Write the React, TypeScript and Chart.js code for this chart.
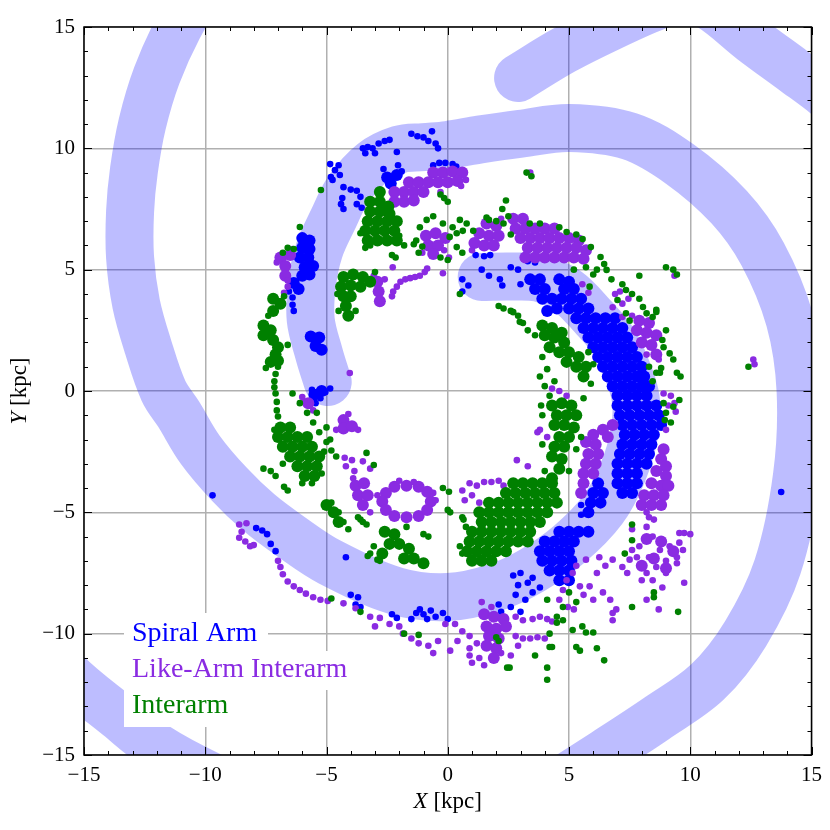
import React, { useEffect, useRef } from 'react';
import { Chart, registerables } from 'chart.js';

Chart.register(...registerables);

// ---------- axis ticks ----------
const majorTicks = [-15, -10, -5, 0, 5, 10, 15];
const minorTicks = [-15, -14, -13, -12, -11, -10, -9, -8, -7, -6, -5, -4, -3, -2, -1, 0, 1, 2, 3, 4, 5, 6, 7, 8, 9, 10, 11, 12, 13, 14, 15];

// ---------- legend ----------
const seriesNames = ['Spiral Arm', 'Like-Arm Interarm', 'Interarm'];
const seriesColors = ['#0000ff', '#8a2be2', '#008000'];

// ---------- spiral arm centre lines (kpc) ----------
const armInner = [
  [1.4, 4.7], [2.6, 4.72], [3.8, 4.65], [4.95, 4.1], [6.0, 3.05], [6.8, 2.1], [7.3, 1.1], [7.75, -0.3],
  [7.7, -1.73], [7.21, -3.38], [6.39, -4.9], [5.03, -6.3], [3.5, -7.38], [2.0, -8.08], [0, -8.49],
  [-2.1, -8.25], [-4.86, -7.05], [-6.47, -6.0], [-7.8, -5.0], [-9.0, -3.85], [-10.2, -2.43], [-11.1, -0.95],
  [-11.72, 0.0], [-12.35, 1.8], [-12.85, 3.6], [-13.1, 5.5], [-13.1, 7.4], [-12.94, 9.1], [-12.6, 11.0],
  [-12.0, 13.0], [-11.1, 15.0], [-10.0, 16.8]
];
const armOuter = [
  [-4.95, 0.37], [-5.3, 1.5], [-5.65, 2.93], [-5.6, 4.4], [-5.3, 5.8], [-4.74, 7.05], [-4.1, 8.3],
  [-3.1, 9.4], [-2.0, 9.95], [-1.0, 10.05], [0, 10.14], [1.32, 10.36], [3.0, 10.6], [5.02, 10.84],
  [7.5, 10.5], [9.56, 9.36], [11.6, 7.58], [12.98, 5.65], [14.1, 2.93], [14.55, 0], [14.4, -3.5],
  [13.6, -7.25], [12.28, -10], [10.7, -12], [8.6, -13.5], [6.47, -14.9], [3.5, -16.8]
];
const armTop = [
  [2.9, 12.9], [4.8, 14.05], [6.8, 15.05], [8.6, 15.85], [9.8, 16.15], [10.8, 15.85],
  [12.56, 14.45], [14.26, 13.2], [15.6, 12.2], [17, 11]
];
const armCorner = [
  [-17.5, -9.5], [-15.72, -11.63], [-13.6, -13.4], [-11.99, -14.67], [-9.79, -15.86], [-7.5, -16.8]
];

// ---------- Spiral Arm (blue) ----------
const spiralArmPoints = [
  [-6.4, 3.85], [-6.4, 3.55], [-6.35, 3.3], [-6.55, 4.1],
  [-4.85, 0.1], [-5.05, -0.05], [-5.6, 0.05], [-5.45, -0.5], [-5.25, -0.3],
  [-4.82, 8.82], [-4.85, 9.35], [-4.65, 9.1], [-4.5, 9.3], [-4.45, 8.9], [-4.75, 8.7],
  [-4.3, 8.4], [-4.0, 8.3], [-3.75, 8.25], [-3.6, 8.0], [-3.75, 7.7], [-3.55, 7.55], [-4.4, 7.7], [-4.3, 7.5], [-4.35, 7.95],
  [-3.5, 10.0], [-3.3, 10.05], [-3.1, 10.0], [-3.4, 9.8], [-2.85, 10.2], [-2.6, 10.3], [-2.4, 10.35], [-2.1, 9.85], [-3.0, 9.8],
  [-1.5, 10.6], [-1.25, 10.5], [-1.0, 10.45], [-0.8, 10.3], [-0.65, 10.7], [-0.5, 10.2], [-0.4, 10.0],
  [-0.6, 9.3], [-0.35, 9.4], [-0.1, 9.4], [0.2, 9.35], [0.35, 9.25],
  [-2.05, 9.3], [-1.9, 9.05], [-2.65, 9.15],
  [0.6, 4.6], [0.85, 4.35], [0.6, 4.1], [1.15, 5.6], [1.5, 5.55], [1.75, 5.6], [1.4, 5.0], [1.7, 4.75],
  [2.15, 4.6], [2.25, 4.35], [2.6, 5.1], [2.9, 5.0], [3.3, 5.35], [3.6, 5.3], [3.0, 4.4],
  [5.5, -4.7], [5.5, -5.1],
  [2.7, -7.6], [3.0, -7.5], [2.9, -8.0], [3.3, -7.9], [2.8, -8.4], [3.2, -8.6], [3.5, -7.7], [2.6, -8.9],
  [3.0, -9.1], [3.5, -8.3], [3.8, -8.1], [2.1, -8.8], [2.2, -9.1],
  [-1.5, -9.4], [-1.3, -9.15], [-1.0, -9.2], [-0.7, -9.05], [-0.5, -9.3], [-0.2, -9.15], [0.0, -9.4], [-0.85, -9.4], [-1.15, -9.0],
  [-2.3, -9.2], [-2.1, -9.35],
  [-4.0, -8.4], [-3.7, -8.5], [-3.8, -8.8], [-3.6, -8.9],
  [-4.2, -6.85],
  [-7.9, -5.65], [-7.65, -5.75], [-7.45, -5.9], [-7.3, -6.3], [-7.1, -6.6],
  [-9.7, -4.3], [13.75, -4.16]
];
const spiralArmCores = [
  [-6.0, 6.3], [-5.7, 6.2], [-6.0, 5.9], [-5.7, 5.85], [-6.1, 5.5], [-5.75, 5.5], [-5.9, 5.1], [-5.55, 5.15],
  [-6.0, 4.75], [-5.7, 4.8], [-6.35, 4.45], [-6.15, 4.2],
  [-5.65, 2.25], [-5.3, 2.2], [-5.45, 1.85], [-5.2, 1.7],
  [-5.5, -0.15], [-5.2, 0.0],
  [-2.5, 8.8], [-2.1, 8.9], [-2.35, 8.55],
  [3.4, 4.6], [3.8, 4.6], [4.6, 4.6], [5.0, 4.5],
  [3.6, 4.2], [4.0, 4.2], [4.8, 4.2], [5.2, 4.2],
  [3.9, 3.8], [4.3, 3.8], [4.7, 3.8], [5.1, 3.8], [5.5, 3.8],
  [4.1, 3.3], [4.5, 3.4], [5.0, 3.4], [5.4, 3.4], [5.8, 3.4],
  [5.3, 3.0], [5.7, 3.0], [6.1, 3.0], [6.5, 3.0], [6.9, 3.0],
  [5.6, 2.6], [6.0, 2.6], [6.4, 2.6], [6.8, 2.6], [7.2, 2.6],
  [5.8, 2.2], [6.2, 2.2], [6.6, 2.2], [7.0, 2.2], [7.4, 2.2],
  [6.0, 1.8], [6.4, 1.8], [6.8, 1.8], [7.2, 1.8], [7.6, 1.8],
  [6.2, 1.4], [6.6, 1.4], [7.0, 1.4], [7.4, 1.4], [7.8, 1.4],
  [6.4, 1.0], [6.8, 1.0], [7.2, 1.0], [7.6, 1.0], [8.0, 1.0],
  [6.6, 0.6], [7.0, 0.6], [7.4, 0.6], [7.8, 0.6], [8.1, 0.6],
  [6.8, 0.2], [7.2, 0.2], [7.6, 0.2], [8.0, 0.2], [8.3, 0.2],
  [7.0, -0.2], [7.4, -0.2], [7.8, -0.2], [8.2, -0.2],
  [7.0, -0.6], [7.4, -0.6], [7.8, -0.6], [8.2, -0.6], [8.6, -0.6],
  [7.1, -1.0], [7.5, -1.0], [7.9, -1.0], [8.3, -1.0], [8.7, -1.0],
  [7.2, -1.4], [7.6, -1.4], [8.0, -1.4], [8.4, -1.4], [8.8, -1.4],
  [7.3, -1.8], [7.7, -1.8], [8.1, -1.8], [8.5, -1.8],
  [7.2, -2.2], [7.6, -2.2], [8.0, -2.2], [8.4, -2.2],
  [7.1, -2.6], [7.5, -2.6], [7.9, -2.6], [8.3, -2.6],
  [7.0, -3.0], [7.4, -3.0], [7.8, -3.0], [8.2, -3.0],
  [7.0, -3.4], [7.4, -3.4], [7.8, -3.4],
  [6.2, -3.8], [7.0, -3.8], [7.4, -3.8], [7.8, -3.8],
  [6.0, -4.2], [6.4, -4.2], [7.2, -4.2], [7.6, -4.2],
  [5.9, -4.6], [6.3, -4.6], [5.8, -5.0],
  [4.6, -5.8], [5.0, -5.8], [5.4, -5.8], [5.8, -5.8],
  [4.0, -6.2], [4.4, -6.2], [4.8, -6.2], [5.2, -6.2],
  [3.8, -6.6], [4.2, -6.6], [4.6, -6.6], [5.0, -6.6],
  [3.9, -7.0], [4.3, -7.0], [4.7, -7.0], [5.1, -7.0],
  [4.2, -7.4], [4.6, -7.4], [5.0, -7.4],
  [4.6, -7.8], [5.0, -7.8]
];

// ---------- Like-Arm Interarm (purple) ----------
const likeArmPoints = [
  [-6.6, 4.3], [-6.75, 4.05], [-7.05, 5.3], [-6.4, 5.85], [-6.6, 4.55],
  [-5.9, -0.45], [-5.7, -0.6], [-5.55, -0.8], [-6.0, -0.25],
  [-4.6, -1.6], [-3.7, -1.6], [-4.1, -0.95], [-4.04, 0.74],
  [-3.05, 4.75], [-2.6, 4.6],
  [-2.3, 3.9], [-2.25, 4.1], [-2.1, 4.3], [-1.95, 4.5], [-1.75, 4.6], [-1.55, 4.65], [-1.35, 4.7], [-1.15, 4.75],
  [-0.95, 4.9], [-0.85, 5.05], [-2.27, 5.1], [-0.2, 4.85],
  [0.75, 8.7], [0.55, 8.45], [-0.3, 8.2],
  [-0.15, 5.8], [0.05, 5.5], [-1.05, 5.7],
  [1.0, 5.8], [2.2, 7.1], [3.4, 9.0],
  [7.1, 4.1], [7.45, 3.8], [6.8, 3.45], [7.2, 3.05], [9.35, 4.75], [5.55, 4.4], [5.8, 4.05], [6.9, 4.0], [7.2, 3.6],
  [7.6, 3.1], [8.7, 1.3], [8.2, 1.5],
  [8.9, -0.1], [9.2, -0.2], [9.35, -0.5], [9.1, -0.6], [9.4, -0.85], [9.0, -1.6],
  [4.3, 0.1], [4.6, 0.0], [4.9, -0.2], [3.8, -1.6], [4.1, -1.9],
  [8.2, -5.0], [8.5, -5.3], [8.3, -5.2],
  [7.6, -5.7], [8.2, -5.6], [8.45, -6.0], [7.9, -6.4], [7.8, -6.85], [8.3, -6.85], [8.75, -6.55], [9.15, -6.4],
  [9.55, -6.25], [9.7, -6.55], [9.45, -6.85], [9.0, -7.0], [8.6, -7.25], [8.2, -7.5], [9.0, -7.5], [9.45, -7.1],
  [9.55, -5.85], [9.75, -5.85], [9.75, -7.9], [8.0, -7.8], [8.45, -7.8], [8.85, -8.1], [7.6, -6.55], [7.5, -6.95],
  [10.0, -5.9], [8.2, -8.6], [8.7, -9.0],
  [5.7, -6.95], [6.25, -6.85], [6.8, -6.95], [7.2, -7.25], [6.15, -7.5], [5.85, -8.05], [6.4, -8.3], [6.7, -8.6],
  [6.0, -8.6], [5.45, -8.05], [5.15, -7.5], [4.9, -7.8], [4.75, -8.2], [4.6, -8.6], [6.8, -9.15], [6.8, -9.45],
  [6.95, -9.0], [7.4, -7.5], [5.3, -7.2], [6.5, -7.2], [5.6, -8.4], [4.95, -8.9], [5.2, -9.0],
  [1.4, -8.7], [1.8, -8.9], [2.8, -9.3], [3.1, -9.45], [3.5, -9.4], [3.8, -9.3], [4.1, -9.4], [4.3, -9.5],
  [2.8, -10.1], [3.1, -10.2], [3.4, -10.2], [3.7, -10.15], [4.0, -10.2], [2.9, -10.5], [2.6, -10.9],
  [-3.2, -9.3], [-2.8, -9.35], [-2.4, -9.6], [-3.0, -9.7], [-1.85, -10.0], [-1.5, -10.2], [-1.2, -10.4],
  [-0.8, -10.5], [-0.4, -10.3], [-0.1, -9.6], [0.3, -9.6], [0.6, -9.9], [0.9, -10.1], [0.4, -10.3],
  [0.9, -10.6], [1.2, -10.4], [0.9, -10.9], [1.3, -11.0], [1.5, -11.3], [1.0, -11.2], [2.2, -10.8],
  [-0.6, -10.8], [0.1, -10.7], [-2.0, -9.7],
  [-4.3, -8.75], [-3.8, -8.95],
  [-6.9, -7.25], [-6.8, -7.55], [-6.6, -7.85], [-6.35, -8.05], [-6.1, -8.2], [-5.85, -8.35], [-5.55, -8.5],
  [-5.25, -8.6], [-4.95, -8.65], [-7.0, -7.0],
  [-8.6, -5.5], [-8.3, -5.45], [-8.5, -5.8], [-8.6, -6.05], [-8.35, -6.2], [-8.15, -6.4], [-8.0, -6.35],
  [-4.25, -2.75], [-3.95, -2.85], [-4.2, -3.1], [-3.85, -3.3], [-3.5, -2.9], [-3.2, -3.2],
  [-0.5, -4.5], [-0.6, -4.2], [-2.9, -4.3], [-1.4, -3.75], [-2.0, -3.7], [-3.2, -5.0], [-3.9, -3.6],
  [0.6, -4.1], [0.9, -3.8], [1.2, -3.9], [1.5, -3.75], [1.8, -3.75], [2.1, -3.7], [2.3, -3.9], [1.0, -4.3],
  [0.7, -4.5], [1.3, -4.6],
  [2.85, -2.85], [3.3, -3.1], [3.7, -1.7],
  [12.6, 1.3], [12.65, 1.1]
];
const likeArmCores = [
  [-6.9, 5.5], [-6.5, 5.6], [-6.7, 5.15], [-6.7, 4.75],
  [-5.75, -0.5],
  [-4.3, -1.2], [-4.3, -1.55], [-3.95, -1.45],
  [-2.9, 4.5], [-2.85, 4.1], [-2.8, 3.7],
  [-0.6, 9.0], [-0.2, 9.0], [0.2, 9.05], [0.6, 9.0],
  [-1.6, 8.6], [-1.2, 8.6], [-0.8, 8.6], [-0.4, 8.6], [0.0, 8.6], [0.4, 8.65],
  [-2.2, 8.2], [-1.8, 8.2], [-1.4, 8.2], [-1.0, 8.2],
  [-2.2, 7.8], [-1.8, 7.8], [-1.4, 7.85],
  [-0.9, 6.4], [-0.5, 6.5], [-0.1, 6.3], [-0.8, 6.0], [-0.4, 6.0], [-0.6, 5.65],
  [1.6, 6.9], [2.0, 6.8], [1.3, 6.5], [1.7, 6.4], [2.1, 6.4], [1.1, 6.1], [1.5, 6.0], [1.9, 6.0],
  [2.7, 7.1], [3.1, 7.1],
  [2.8, 6.7], [3.2, 6.7], [3.6, 6.7], [4.0, 6.7], [4.4, 6.7],
  [3.0, 6.3], [3.4, 6.3], [3.8, 6.3], [4.2, 6.3], [4.6, 6.3], [5.0, 6.3], [5.4, 6.2],
  [3.3, 5.9], [3.7, 5.9], [4.1, 5.9], [4.5, 5.9], [4.9, 5.9], [5.3, 5.9], [5.7, 5.8],
  [3.2, 5.5], [3.6, 5.5], [4.0, 5.5], [4.4, 5.5], [4.8, 5.5], [5.2, 5.5], [5.6, 5.45],
  [7.9, 2.9], [8.3, 2.8], [7.8, 2.5], [8.2, 2.4], [8.6, 2.3], [8.0, 2.0], [8.4, 1.9], [8.6, 1.5],
  [6.8, -1.4], [6.4, -1.6], [6.0, -1.8], [6.6, -1.9], [5.7, -2.1], [6.1, -2.2], [5.8, -2.6], [6.2, -2.6],
  [5.7, -3.0], [6.1, -3.0], [5.6, -3.4], [6.0, -3.4], [5.6, -3.8], [5.5, -4.2],
  [8.9, -2.4], [8.8, -2.8], [9.0, -3.1], [8.6, -3.3], [9.0, -3.5], [8.4, -3.8], [8.8, -3.9], [9.1, -3.9],
  [8.1, -4.3], [8.5, -4.3], [8.9, -4.3], [8.0, -4.7], [8.4, -4.7], [8.8, -4.7],
  [8.2, -6.1], [8.8, -6.2], [9.3, -6.6], [8.5, -6.9], [9.0, -7.3], [8.0, -7.2],
  [1.5, -9.2], [1.9, -9.3], [2.3, -9.4], [1.6, -9.7], [2.0, -9.8], [2.4, -9.7], [1.7, -10.1], [2.1, -10.2],
  [2.0, -10.6], [1.6, -10.5], [1.9, -11.0],
  [-0.7, -4.55], [-0.85, -4.15], [-1.2, -3.95], [-1.7, -3.9], [-2.2, -3.95], [-2.55, -4.2], [-2.7, -4.55],
  [-2.55, -4.9], [-2.2, -5.15], [-1.7, -5.2], [-1.2, -5.15], [-0.85, -4.9],
  [-3.8, -3.9], [-3.45, -3.8], [-3.7, -4.3], [-3.3, -4.3], [-3.5, -4.7]
];

// ---------- Interarm (green) ----------
const interarmPoints = [
  [-5.23, 8.28], [-6.1, 6.76], [-6.6, 5.9], [-6.35, 5.85], [-6.8, 5.7],
  [-7.4, 3.1], [-6.75, 3.9], [-7.5, 0.95], [-6.6, 1.9],
  [-7.0, 1.0], [-7.1, 0.7], [-7.15, 0.4], [-7.15, 0.15], [-7.1, -0.1], [-7.05, -0.45], [-7.05, -0.8], [-7.0, -1.05],
  [-6.4, -0.1], [-6.1, -0.5], [-5.8, -0.9], [-5.55, -1.3], [-5.3, -1.7],
  [-7.15, -1.6], [-5.1, -2.5], [-5.0, -2.1], [-6.8, -3.0], [-5.2, -3.4], [-5.6, -3.8], [-6.0, -3.8], [-5.4, -0.9],
  [-5.0, -1.5], [-4.85, -2.0], [-4.8, -2.45], [-4.6, -2.7],
  [-7.6, -3.2], [-7.3, -3.3], [-7.1, -3.5], [-6.75, -3.95], [-6.6, -4.1],
  [-3.35, -2.55], [-3.05, -3.05],
  [-4.8, -4.6], [-4.5, -5.0], [-4.3, -5.4], [-4.1, -5.7],
  [-3.6, -5.3], [-3.35, -5.5], [-3.05, -6.4], [-2.9, -6.95], [-3.3, -6.8], [-3.5, -5.4], [-3.7, -5.2], [-3.2, -6.7],
  [-2.8, -7.0], [-1.0, -5.9], [-0.8, -6.0], [-1.7, -5.6],
  [-0.2, -4.0], [0.05, -4.15], [0.0, -4.9], [0.1, -5.0], [0.6, -5.2], [0.75, -5.6], [0.5, -6.4], [0.6, -6.7], [0.65, -5.3],
  [3.9, -2.2], [5.5, -1.9], [5.6, -0.3], [5.3, -2.4], [4.0, -3.3], [5.0, -3.3],
  [3.8, 0.6], [4.0, 0.2], [4.2, -0.2], [5.9, 0.3], [6.0, 1.1], [5.8, 1.6], [3.9, 1.4], [4.1, 0.9], [4.4, 0.4],
  [3.85, -0.6], [3.9, -1.0],
  [2.1, 3.5], [2.7, 3.25], [2.3, 3.4], [2.6, 3.3], [2.9, 3.1], [3.1, 2.8], [3.3, 2.5], [3.6, 2.3], [2.97, 2.85], [0.5, 4.0],
  [3.38, 6.9], [3.8, 6.9], [4.6, 6.75], [4.9, 6.55], [5.3, 6.45], [5.56, 6.26], [5.9, 5.93], [6.3, 5.52], [6.45, 5.23],
  [6.55, 4.99], [6.0, 4.8], [6.15, 5.0], [6.75, 4.6], [7.2, 4.4], [7.35, 4.16], [7.6, 4.0], [7.9, 3.8], [8.05, 3.46],
  [8.2, 3.2], [8.6, 3.26], [7.0, 3.75], [7.35, 3.2], [7.5, 2.9], [5.85, 4.3], [5.7, 5.1], [5.2, 5.0],
  [9.0, 5.1], [9.3, 5.0], [9.45, 4.8], [7.9, 4.75],
  [8.6, 3.35], [8.45, 3.05], [8.85, 2.1], [9.15, 1.55], [9.3, 1.3], [8.3, 1.0], [8.6, 0.75], [8.45, 0.4],
  [9.45, 0.75], [9.55, -0.37], [9.3, -0.65], [9.0, -0.9], [8.95, -1.2], [8.75, 0.75], [8.8, 0.95], [9.6, 0.6],
  [9.2, -1.3], [8.9, -0.5], [9.0, 2.5], [8.9, 1.8],
  [7.6, -5.5], [7.6, -6.15],
  [3.25, 9.0], [3.45, 8.85],
  [2.4, 7.85], [2.25, 7.5], [2.5, 7.2], [2.3, 6.9], [1.7, 7.05], [2.6, 6.45], [1.6, 7.15], [2.0, 7.0],
  [-1.8, 6.0], [-2.3, 5.6], [-2.15, 5.5], [-3.4, 5.9], [-2.0, 6.4],
  [-0.3, 8.1], [0.0, 7.8], [-0.15, 7.95],
  [-1.15, 6.75], [-0.87, 7.05], [-0.6, 7.2], [-0.2, 6.9], [0.2, 6.75], [0.5, 7.05], [0.78, 6.9], [1.05, 6.6],
  [0.37, 6.5], [0.08, 6.35], [0.62, 6.6], [0.37, 5.93], [0.6, 5.7], [-1.3, 6.2], [-1.05, 5.95], [-1.4, 6.05],
  [-1.2, 5.7], [-0.3, 5.5], [0.0, 5.4],
  [-3.6, 6.5], [-3.2, 6.0],
  [-4.5, 3.3], [-3.8, 3.3], [-3.0, 4.9], [-4.55, 4.0],
  [-4.8, -8.55], [-3.6, -9.1], [-1.8, -10.0], [-1.2, -10.05],
  [2.0, -10.15], [2.45, -11.4], [4.1, -8.6], [4.75, -8.9], [4.75, -9.45], [5.55, -9.7], [5.3, -10.55], [4.2, -10.55],
  [4.1, -11.4], [5.7, -9.95], [5.15, -9.85], [5.45, -10.7], [6.0, -9.95], [6.15, -10.6], [6.45, -11.1], [4.1, -11.9],
  [3.6, -10.9], [2.55, -11.4], [2.1, -10.3], [4.2, -10.0], [4.3, -10.55], [5.0, -8.3], [5.3, -8.7], [4.5, -9.3],
  [4.5, -9.55], [7.3, -6.7], [7.6, -8.9], [8.5, -8.3], [9.5, -9.1], [8.5, -8.5],
  [12.4, 1.0]
];
const interarmCores = [
  [-7.2, 3.8], [-6.9, 3.6], [-7.2, 3.3],
  [-7.6, 2.7], [-7.3, 2.5], [-7.6, 2.3], [-7.2, 2.1],
  [-7.0, 1.8], [-7.1, 1.5], [-7.3, 1.2], [-7.0, 1.25],
  [-6.9, -1.5], [-6.5, -1.5],
  [-7.0, -1.9], [-6.6, -1.9], [-6.2, -1.9], [-5.8, -1.9],
  [-6.8, -2.3], [-6.4, -2.3], [-6.0, -2.3], [-5.6, -2.3],
  [-6.5, -2.7], [-6.1, -2.7], [-5.7, -2.7], [-5.3, -2.7],
  [-6.2, -3.1], [-5.8, -3.1], [-5.4, -3.1],
  [-5.9, -3.5], [-5.5, -3.5],
  [-5.0, -4.7], [-4.7, -5.0], [-4.5, -5.4],
  [-2.6, -5.8], [-2.2, -5.9], [-2.4, -6.3], [-2.0, -6.3], [-1.6, -6.5], [-1.8, -6.9], [-1.4, -6.9], [-1.0, -7.1], [-2.7, -6.7],
  [2.7, -3.8], [3.1, -3.8], [3.5, -3.8], [3.9, -3.8], [4.3, -3.8],
  [2.4, -4.2], [2.8, -4.2], [3.2, -4.2], [3.6, -4.2], [4.0, -4.2], [4.4, -4.2],
  [1.7, -4.6], [2.1, -4.6], [2.5, -4.6], [2.9, -4.6], [3.3, -4.6], [3.7, -4.6], [4.1, -4.6], [4.5, -4.6],
  [1.3, -5.0], [1.7, -5.0], [2.1, -5.0], [2.5, -5.0], [2.9, -5.0], [3.3, -5.0], [3.7, -5.0], [4.1, -5.0],
  [1.4, -5.4], [1.8, -5.4], [2.2, -5.4], [2.6, -5.4], [3.0, -5.4], [3.4, -5.4], [3.8, -5.4],
  [1.0, -5.8], [1.4, -5.8], [1.8, -5.8], [2.2, -5.8], [2.6, -5.8], [3.0, -5.8], [3.4, -5.8],
  [0.9, -6.2], [1.3, -6.2], [1.7, -6.2], [2.1, -6.2], [2.5, -6.2], [2.9, -6.2], [3.3, -6.2],
  [0.8, -6.6], [1.2, -6.6], [1.6, -6.6], [2.0, -6.6], [2.4, -6.6],
  [1.0, -7.0], [1.4, -7.0], [1.8, -7.0],
  [4.3, -0.6], [4.7, -0.5], [5.1, -0.6], [4.5, -1.0], [4.9, -1.0], [5.3, -1.0], [4.4, -1.4], [4.8, -1.4],
  [5.2, -1.5], [4.6, -1.9], [5.0, -1.9], [4.4, -2.3], [4.8, -2.3], [4.3, -2.7], [4.7, -2.8], [4.6, -3.2], [4.3, -3.6],
  [3.9, 2.7], [4.3, 2.6], [4.7, 2.4], [4.0, 2.3], [4.4, 2.2], [4.8, 2.0], [4.2, 1.8], [4.6, 1.6], [5.0, 1.6],
  [5.4, 1.4], [4.9, 1.2], [5.3, 1.0], [5.7, 1.0], [5.6, 0.6],
  [-2.8, 8.2],
  [-3.2, 7.8], [-2.8, 7.8], [-2.45, 7.6],
  [-3.2, 7.4], [-2.8, 7.4], [-2.4, 7.3],
  [-3.3, 7.0], [-2.9, 7.0], [-2.5, 7.0], [-2.1, 7.0],
  [-3.4, 6.6], [-3.0, 6.6], [-2.6, 6.6], [-2.2, 6.6],
  [-3.3, 6.2], [-2.9, 6.2], [-2.5, 6.2], [-2.1, 6.2],
  [-4.3, 4.7], [-3.9, 4.8], [-3.5, 4.7], [-4.4, 4.3], [-4.0, 4.35], [-3.6, 4.3], [-3.2, 4.5],
  [-4.3, 3.9], [-4.0, 3.9], [-4.2, 3.5], [-4.1, 3.1]
];

const FONT = '"Liberation Serif", "Times New Roman", serif';
const toXY = (arr: number[][]) => arr.map(([x, y]) => ({ x, y }));
const fmt = (v: number) => (v < 0 ? '\u2212' + Math.abs(v) : String(v));

const armStyle = {
  showLine: true,
  borderColor: 'rgba(0,0,255,0.26)',
  borderWidth: 48,
  borderCapStyle: 'round',
  borderJoinStyle: 'round',
  pointRadius: 0,
  pointHoverRadius: 0,
  tension: 0.35,
  capBezierPoints: false,
  fill: false,
  clip: 0,
  order: 10,
};

const framePlugin = {
  id: 'frameAndLegend',
  afterDatasetsDraw(chart: any) {
    const { ctx, chartArea: a, scales } = chart;
    const xs = scales.x;
    const ys = scales.y;
    ctx.save();
    const lx = a.left + 40;
    const boxes = [
      [a.left + 40, a.bottom - 142, 144, 38],
      [a.left + 40, a.bottom - 104, 228, 39],
      [a.left + 40, a.bottom - 65, 116, 37],
    ];
    ctx.fillStyle = '#ffffff';
    boxes.forEach((b) => ctx.fillRect(b[0], b[1], b[2], b[3]));
    ctx.font = '28px ' + FONT;
    ctx.textAlign = 'left';
    ctx.textBaseline = 'alphabetic';
    seriesNames.forEach((name, i) => {
      ctx.fillStyle = seriesColors[i];
      ctx.fillText(name, lx + 8, a.bottom - 114 + i * 36);
    });
    ctx.strokeStyle = '#000';
    ctx.lineWidth = 1;
    ctx.beginPath();
    minorTicks.forEach((v) => {
      const len = majorTicks.includes(v) ? 8 : 4;
      const px = Math.round(xs.getPixelForValue(v)) + 0.5;
      ctx.moveTo(px, a.bottom); ctx.lineTo(px, a.bottom - len);
      ctx.moveTo(px, a.top); ctx.lineTo(px, a.top + len);
      const py = Math.round(ys.getPixelForValue(v)) + 0.5;
      ctx.moveTo(a.left, py); ctx.lineTo(a.left + len, py);
      ctx.moveTo(a.right, py); ctx.lineTo(a.right - len, py);
    });
    ctx.stroke();
    ctx.lineWidth = 1.5;
    ctx.strokeRect(a.left, a.top, a.right - a.left, a.bottom - a.top);
    ctx.restore();
  },
  afterDraw(chart: any) {
    const { ctx, chartArea: a } = chart;
    ctx.save();
    ctx.fillStyle = '#000';
    ctx.textBaseline = 'alphabetic';
    const drawLabel = (letter: string, rest: string, cx: number, base: number) => {
      ctx.font = 'italic 23px ' + FONT;
      const w1 = ctx.measureText(letter).width;
      ctx.font = '23px ' + FONT;
      const w2 = ctx.measureText(rest).width;
      const start = cx - (w1 + w2) / 2;
      ctx.font = 'italic 23px ' + FONT;
      ctx.textAlign = 'left';
      ctx.fillText(letter, start, base);
      ctx.font = '23px ' + FONT;
      ctx.fillText(rest, start + w1, base);
    };
    drawLabel('X', ' [kpc]', (a.left + a.right) / 2, a.bottom + 53);
    ctx.translate(26, (a.top + a.bottom) / 2);
    ctx.rotate(-Math.PI / 2);
    drawLabel('Y', ' [kpc]', 0, 0);
    ctx.restore();
  },
};

export default function App() {
  const ref = useRef<HTMLCanvasElement>(null);
  useEffect(() => {
    if (!ref.current) return;
    const pointStyle = (color: string, r: number, order: number) => ({
      backgroundColor: color,
      borderWidth: 0,
      pointRadius: r,
      pointHoverRadius: r,
      clip: 0,
      order,
    });
    const chart = new Chart(ref.current, {
      type: 'scatter',
      data: {
        datasets: [
          { label: 'armInner', data: toXY(armInner), ...armStyle } as any,
          { label: 'armOuter', data: toXY(armOuter), ...armStyle } as any,
          { label: 'armTop', data: toXY(armTop), ...armStyle } as any,
          { label: 'armCorner', data: toXY(armCorner), ...armStyle } as any,
          { label: seriesNames[0], data: toXY(spiralArmCores), ...pointStyle(seriesColors[0], 6, 7) },
          { label: seriesNames[0], data: toXY(spiralArmPoints), ...pointStyle(seriesColors[0], 3.3, 6) },
          { label: seriesNames[1], data: toXY(likeArmCores), ...pointStyle(seriesColors[1], 6, 5) },
          { label: seriesNames[1], data: toXY(likeArmPoints), ...pointStyle(seriesColors[1], 3.3, 4) },
          { label: seriesNames[2], data: toXY(interarmCores), ...pointStyle(seriesColors[2], 6, 3) },
          { label: seriesNames[2], data: toXY(interarmPoints), ...pointStyle(seriesColors[2], 3.3, 2) },
        ],
      },
      options: {
        animation: false,
        responsive: false,
        events: [],
        layout: { padding: { top: 27, right: 18, left: 0, bottom: 0 } },
        plugins: { legend: { display: false }, tooltip: { enabled: false } },
        scales: {
          x: {
            type: 'linear',
            min: -15,
            max: 15,
            afterBuildTicks: (s: any) => { s.ticks = majorTicks.map((v) => ({ value: v })); },
            afterFit: (s: any) => { s.height = 75; },
            ticks: { callback: (v: any) => fmt(Number(v)), color: '#000', font: { family: FONT, size: 21 }, padding: 8, maxRotation: 0 },
            grid: { color: '#b0b0b0', lineWidth: 1.5, drawTicks: false },
            border: { display: false },
          },
          y: {
            type: 'linear',
            min: -15,
            max: 15,
            afterBuildTicks: (s: any) => { s.ticks = majorTicks.map((v) => ({ value: v })); },
            afterFit: (s: any) => { s.width = 84; },
            ticks: { callback: (v: any) => fmt(Number(v)), color: '#000', font: { family: FONT, size: 21 }, padding: 9 },
            grid: { color: '#b0b0b0', lineWidth: 1.5, drawTicks: false },
            border: { display: false },
          },
        },
      },
      plugins: [framePlugin],
    });
    return () => chart.destroy();
  }, []);
  return (
    <div style={{ position: 'fixed', left: 0, top: 0, width: 830, height: 830, background: '#fff' }}>
      <canvas ref={ref} width={830} height={830} style={{ width: 830, height: 830 }} />
    </div>
  );
}
